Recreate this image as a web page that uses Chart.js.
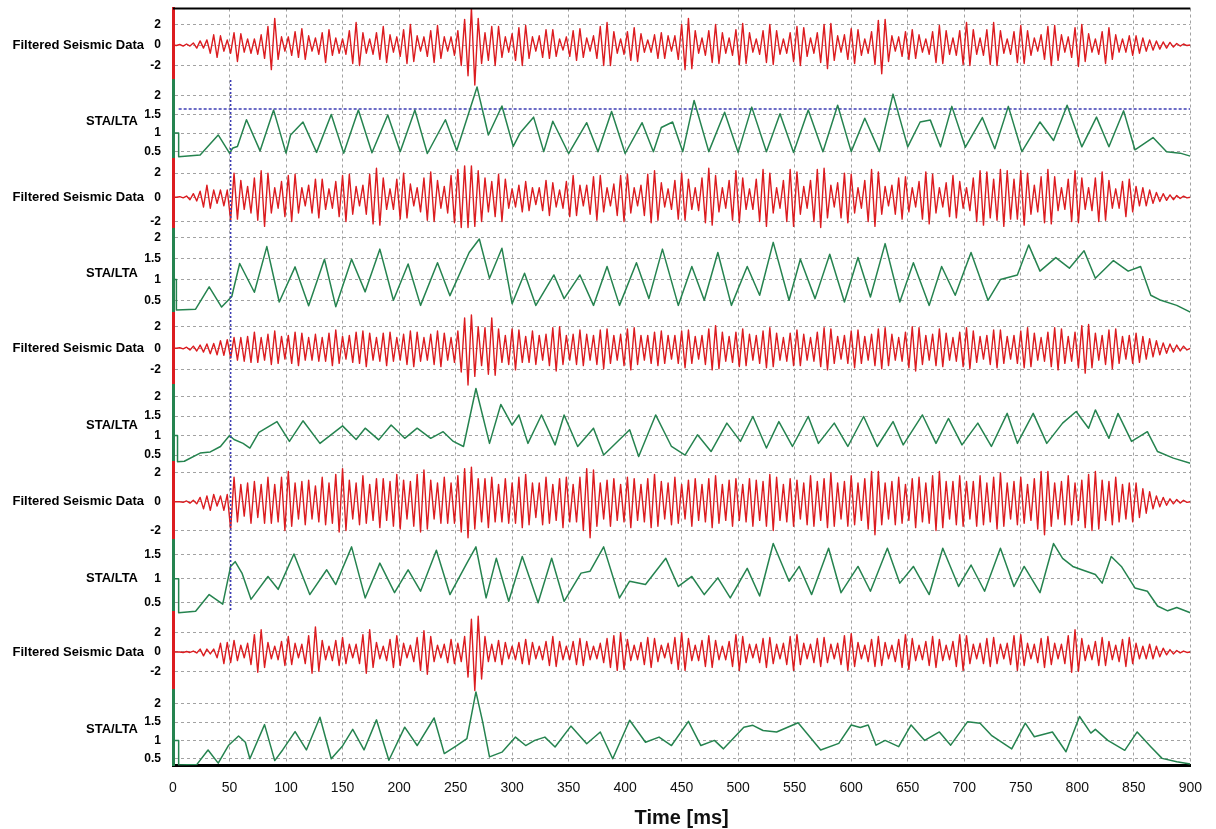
<!DOCTYPE html>
<html>
<head>
<meta charset="utf-8">
<title>STA/LTA</title>
<script src="https://cdn.jsdelivr.net/npm/chart.js@4.4.1/dist/chart.umd.min.js"></script>
<style>
  html, body { margin: 0; padding: 0; background: #fff; }
  canvas { display: block; }
</style>
</head>
<body>
<canvas id="traces" width="1216" height="829"></canvas>
<script>
// seismic traces are sampled every 3 ms, 0..900 ms
var sampleStep = 3;

var seisA = [
  0,-0.05,0.05,-0.1,0.1,-0.1,0.2,-0.3,0.4,-0.3,
  0.5,-0.8,1,-1.2,0.9,-0.6,0.5,-0.8,1.2,-1.6,
  1.1,-0.7,0.6,-0.8,0.6,-0.9,1,-1.3,1.8,-2.4,
  2.6,-1.4,0.8,-0.6,0.8,-1,1.3,-1.2,1.6,-1.4,
  0.9,-0.6,0.7,-0.9,1.2,-1.7,1.5,-1,0.7,-0.8,
  0.6,-0.9,1.4,-1.8,2.2,-2,1.2,-0.8,0.6,-0.9,
  1.2,-1.4,1.8,-1.7,1,-0.7,0.8,-1.1,1.5,-1.8,
  2,-1.6,0.9,-0.6,0.8,-1.1,1.4,-1.7,1.9,-1.3,
  0.8,-0.6,0.8,-1,1.4,-2,2.5,-3,3.6,-3.9,
  2.6,-1.8,1.2,-1.5,1.8,-2,1.8,-1.2,0.8,-0.7,
  1.1,-1.5,1.7,-2,1.9,-1.3,0.8,-0.6,0.9,-1.2,
  1.5,-1.3,1.5,-1.1,0.6,-0.5,0.8,-1.1,1.4,-1.5,
  1.6,-1.2,0.7,-0.6,0.9,-1.3,1.8,-2,2.2,-2,
  1.3,-0.8,0.6,-0.9,1.3,-1.5,1.7,-1.6,1.1,-0.7,
  0.5,-0.7,1,-1.3,1.2,-1.3,0.9,-0.6,0.9,-1.4,
  2,-2.4,2.6,-2.3,1.4,-0.8,0.7,-1,1.4,-1.7,
  2,-1.8,1.2,-0.8,0.7,-1,1.5,-1.9,2.1,-1.8,
  1.2,-0.7,0.6,-0.9,1.4,-1.7,2,-1.9,1.4,-0.9,
  0.6,-0.8,1.2,-1.6,1.8,-2,1.7,-1.1,0.7,-0.8,
  1.2,-1.7,2,-2.3,2.1,-1.5,0.9,-0.7,1,-1.4,
  1.6,-1.8,1.5,-1,0.6,-0.8,1.3,-1.9,2.4,-2.8,
  2.5,-1.6,0.9,-0.6,0.8,-1.1,1.3,-1.4,1.5,-1.3,
  1,-0.7,0.6,-0.9,1.3,-1.7,1.9,-1.8,1.4,-0.9,
  0.7,-1,1.4,-1.9,2.2,-2,1.5,-0.9,0.7,-1,
  1.5,-1.9,2.2,-2,1.4,-0.8,0.6,-0.9,1.3,-1.7,
  1.9,-1.8,1.4,-1,0.7,-0.6,1,-1.4,1.8,-2,
  1.9,-1.5,1,-0.7,0.8,-1.2,1.7,-2.1,2,-1.6,
  1.1,-0.7,0.6,-0.9,1.3,-1.8,1.7,-1.4,1,-0.7,
  0.6,-0.7,0.9,-1,0.9,-0.8,0.7,-0.6,0.5,-0.5,
  0.4,-0.4,0.3,-0.3,0.25,-0.2,0.15,-0.1,0.1,-0.05,
  0
];

var seisB = [
  0,0,0.05,-0.05,0.1,-0.2,0.3,-0.3,0.5,-0.8,
  1,-0.9,0.6,-0.5,0.6,-0.7,0.6,-1.9,2,-1.8,
  1.4,-1,0.9,-1.3,1.6,-1.9,2.2,-2.4,2,-1.3,
  0.8,-0.9,1.3,-1.6,1.8,-2,1.9,-1.3,0.8,-0.7,
  1,-1.3,1.5,-1.7,1.5,-1,0.7,-0.9,1.3,-1.6,
  1.8,-2,1.9,-1.4,0.9,-0.7,1,-1.4,1.9,-2.2,
  2.4,-2.3,1.6,-1,0.7,-1,1.5,-1.8,2,-1.7,
  1.1,-0.7,0.8,-1.2,1.6,-1.9,2.1,-2,1.4,-0.9,
  0.9,-1.3,1.8,-2.1,2.3,-2.5,2.6,-2.5,2.6,-2.4,
  2.2,-2,1.6,-1.2,1.3,-1.6,1.9,-2,1.5,-0.9,
  0.7,-0.8,1,-1.2,1.3,-1.1,0.8,-0.6,0.8,-1.1,
  1.4,-1.5,1.2,-0.8,0.6,-0.9,1.3,-1.6,1.8,-1.5,
  1,-0.7,1,-1.4,1.7,-1.9,1.8,-1.2,0.8,-0.7,
  1.1,-1.5,1.8,-2,1.9,-1.3,0.8,-0.7,1,-1.5,
  1.9,-2.1,2.2,-1.9,1.2,-0.8,0.7,-1,1.4,-1.8,
  2,-1.9,1.5,-1,0.8,-1.1,1.6,-2.1,2.4,-2.3,
  1.8,-1.2,0.8,-0.9,1.4,-1.9,2.2,-2.1,1.6,-1,
  0.7,-1,1.5,-2,2.3,-2.4,2,-1.3,0.8,-0.9,
  1.4,-2,2.3,-2.4,2.1,-1.4,0.9,-0.9,1.4,-2,
  2.3,-2.5,2.4,-1.7,1,-0.8,1.2,-1.7,2,-2.1,
  1.9,-1.3,0.8,-0.9,1.4,-2,2.3,-2.4,2.1,-1.4,
  0.9,-0.7,1,-1.4,1.6,-1.8,1.7,-1.2,0.8,-0.8,
  1.3,-1.8,2.1,-2.2,1.9,-1.3,0.8,-0.8,1.2,-1.6,
  1.8,-1.7,1.3,-0.9,0.8,-1.1,1.6,-2,2.2,-2.3,
  2.1,-1.7,1.5,-1.9,2.3,-2.4,2.2,-1.8,1.5,-1.8,
  2.2,-2.3,2,-1.4,1,-1.2,1.7,-2.1,2.3,-2.2,
  1.7,-1.1,0.8,-1,1.5,-2,2.2,-2.1,1.6,-1,
  0.8,-1.1,1.6,-2,2.1,-1.9,1.4,-0.9,0.7,-0.9,
  1.3,-1.6,1.5,-1.2,0.9,-0.7,0.8,-0.7,0.6,-0.5,
  0.4,-0.35,0.3,-0.25,0.2,-0.2,0.15,-0.1,0.1,-0.05,
  0
];

var seisC = [
  0,0,0.05,-0.05,0.1,-0.15,0.2,-0.25,0.3,-0.35,
  0.4,-0.5,0.45,-0.6,0.7,-0.65,0.8,-0.9,1,-1.1,
  1,-1.2,1.1,-1.3,1.5,-1.3,1,-1.1,1.3,-1.5,
  1.6,-1.4,1.1,-1,1.2,-1.4,1.5,-1.6,1.4,-1.1,
  1,-1.1,1.3,-1.2,1,-1.2,1.4,-1.6,1.7,-1.4,
  1.1,-1,1.2,-1.3,1.5,-1.4,1.6,-1.7,1.4,-1.1,
  1,-1.2,1.4,-1.6,1.5,-1.2,1,-1.1,1.3,-1.5,
  1.6,-1.7,1.5,-1.2,1,-1.1,1.3,-1.5,1.6,-1.7,
  1.4,-1.1,1,-1.3,1.6,-2.2,2.8,-3.4,3.1,-2.6,
  2,-1.6,1.9,-2.4,2.8,-2.5,1.8,-1.3,1.2,-1.5,
  1.8,-2,1.7,-1.3,1.1,-1.3,1.6,-1.5,1.2,-1.1,
  1.3,-1.6,1.9,-2.1,2,-1.5,1.2,-1.1,1.3,-1.5,
  1.7,-1.6,1.3,-1.1,1.2,-1.5,1.7,-1.9,1.8,-1.4,
  1.2,-1.1,1.3,-1.6,1.8,-2,1.9,-1.5,1.2,-1.1,
  1.2,-1.4,1.5,-1.6,1.6,-1.4,1.2,-1,1.2,-1.4,
  1.6,-1.8,1.7,-1.4,1.1,-1,1.2,-1.5,1.8,-2,
  2.1,-1.9,1.5,-1.2,1.1,-1.3,1.5,-1.7,1.8,-1.6,
  1.3,-1.1,1.2,-1.4,1.6,-1.8,1.9,-1.7,1.4,-1.1,
  1,-1.2,1.4,-1.6,1.7,-1.6,1.3,-1.1,1,-1.2,
  1.5,-1.7,1.9,-2,1.8,-1.4,1.1,-1,1.2,-1.4,
  1.6,-1.8,1.7,-1.4,1.1,-1.1,1.3,-1.6,1.8,-1.9,
  1.9,-1.6,1.3,-1.1,1,-1.2,1.5,-1.8,2,-2.1,
  1.9,-1.5,1.2,-1.1,1.3,-1.6,1.8,-1.7,1.4,-1.1,
  1,-1.2,1.5,-1.7,1.9,-1.9,1.6,-1.3,1.1,-1,
  1.2,-1.5,1.7,-1.8,1.7,-1.4,1.1,-1,1.2,-1.4,
  1.6,-1.8,1.9,-1.7,1.4,-1.1,1,-1.2,1.5,-1.7,
  1.9,-2,1.8,-1.4,1.1,-1.2,1.5,-1.8,2.1,-2.3,
  2.2,-1.8,1.4,-1.1,1.2,-1.5,1.7,-1.9,1.8,-1.4,
  1.1,-1,1.2,-1.4,1.4,-1.3,1.1,-1,0.9,-0.8,
  0.7,-0.6,0.5,-0.45,0.4,-0.35,0.3,-0.25,0.2,-0.15,
  0
];

var seisD = [
  0,0,0,-0.05,0.05,-0.1,0.1,-0.15,0.3,-0.5,
  0.4,-0.6,0.5,-0.3,0.4,-0.6,0.5,-1.9,1.7,-1.4,
  1.2,-1,1.3,-1.5,1.4,-1.1,1.2,-1.5,1.7,-1.5,
  1.2,-1.4,1.7,-2,2.1,-1.7,1.3,-1.2,1.4,-1.6,
  1.5,-1.2,1.1,-1.4,1.7,-1.6,1.3,-1.5,1.9,-2.1,
  2.3,-2,1.5,-1.2,1.3,-1.6,1.8,-1.5,1.2,-1.3,
  1.6,-1.8,1.6,-1.3,1.4,-1.7,1.9,-1.9,1.5,-1.2,
  1.4,-1.7,1.9,-2.1,2.2,-1.9,1.5,-1.2,1.3,-1.5,
  1.7,-1.5,1.3,-1.5,1.8,-2.1,2.3,-2.5,2.4,-1.9,
  1.6,-1.4,1.6,-1.8,1.7,-1.4,1.2,-1.4,1.6,-1.5,
  1.3,-1.5,1.7,-1.8,1.9,-1.6,1.3,-1.1,1.3,-1.6,
  1.7,-1.5,1.2,-1.3,1.6,-1.8,1.7,-1.4,1.2,-1.4,
  1.7,-2,2.3,-2.5,2.2,-1.7,1.3,-1.2,1.5,-1.7,
  1.6,-1.3,1.2,-1.4,1.7,-1.8,1.6,-1.3,1.2,-1.4,
  1.6,-1.8,1.9,-1.7,1.4,-1.2,1.3,-1.6,1.7,-1.5,
  1.2,-1.2,1.5,-1.7,1.6,-1.3,1.2,-1.4,1.6,-1.8,
  1.8,-1.5,1.2,-1.3,1.5,-1.7,1.6,-1.3,1.2,-1.4,
  1.6,-1.7,1.5,-1.3,1.4,-1.7,1.9,-2,1.7,-1.3,
  1.2,-1.4,1.6,-1.7,1.5,-1.2,1.3,-1.6,1.8,-1.7,
  1.4,-1.3,1.6,-1.8,2,-1.7,1.3,-1.2,1.4,-1.7,
  1.8,-1.6,1.3,-1.3,1.6,-1.9,2.1,-2.3,2.1,-1.6,
  1.3,-1.2,1.4,-1.6,1.7,-1.5,1.2,-1.3,1.6,-1.8,
  1.7,-1.4,1.3,-1.5,1.8,-2,2.1,-1.8,1.4,-1.2,
  1.4,-1.6,1.8,-1.7,1.4,-1.2,1.4,-1.7,1.8,-1.6,
  1.3,-1.4,1.7,-1.9,2,-1.7,1.3,-1.2,1.4,-1.6,
  1.7,-1.5,1.2,-1.3,1.6,-1.9,2.1,-2.3,2.1,-1.7,
  1.3,-1.2,1.4,-1.6,1.8,-1.6,1.3,-1.3,1.5,-1.8,
  1.9,-2,2.1,-1.9,1.5,-1.3,1.4,-1.6,1.7,-1.4,
  1.2,-1.2,1.3,-1.4,1.3,-1.1,0.9,-0.8,0.7,-0.5,
  0.4,-0.35,0.3,-0.25,0.2,-0.15,0.15,-0.1,0.1,-0.05,
  0
];

var seisE = [
  0,0,0,-0.05,0.05,-0.05,0.1,-0.1,0.3,-0.4,
  0.3,-0.2,0.3,-0.6,0.9,-1.2,1,-1.1,1.2,-0.9,
  0.7,-0.6,0.9,-1.3,1.8,-2.1,2.3,-1.6,1,-0.7,
  0.6,-0.8,1.1,-1.4,1.6,-1.3,0.9,-0.6,0.8,-1.2,
  1.7,-2.2,2.6,-2,1.2,-0.8,0.6,-0.9,1.2,-1.4,
  1.5,-1.2,0.8,-0.6,0.8,-1.2,1.8,-2.2,2.3,-1.6,
  1,-0.7,0.6,-0.9,1.3,-1.6,1.7,-1.4,0.9,-0.6,
  0.7,-1,1.5,-1.9,2.2,-2.3,1.6,-1,0.7,-0.6,
  0.8,-1.1,1.3,-1.2,0.9,-1,1.6,-2.6,3.4,-4,
  3.7,-2.8,1.6,-1,0.8,-1,1.2,-1.3,1,-0.7,
  0.6,-0.8,1,-1.2,1.3,-1.3,1,-0.7,0.6,-0.8,
  1.1,-1.4,1.6,-1.5,1.1,-0.8,0.6,-0.8,1.1,-1.3,
  1.4,-1.4,1.1,-0.8,0.6,-0.7,0.9,-1.1,1.4,-1.6,
  1.7,-1.9,2,-1.8,1.3,-0.9,0.7,-0.8,1,-1.3,
  1.5,-1.6,1.4,-1,0.7,-0.6,0.9,-1.2,1.5,-1.8,
  2,-1.9,1.4,-0.9,0.7,-0.9,1.2,-1.5,1.7,-1.6,
  1.2,-0.8,0.6,-0.8,1.1,-1.5,1.8,-1.9,1.6,-1.1,
  0.8,-0.6,0.8,-1.1,1.4,-1.6,1.5,-1.2,0.8,-0.7,
  0.9,-1.3,1.6,-1.9,1.8,-1.3,0.9,-0.7,0.8,-1.1,
  1.4,-1.5,1.5,-1.1,0.8,-0.7,0.9,-1.3,1.7,-1.9,
  1.9,-1.5,1,-0.7,0.7,-1,1.3,-1.5,1.6,-1.4,
  1,-0.7,0.7,-1,1.3,-1.6,1.8,-1.8,1.4,-0.9,
  0.7,-0.8,1.1,-1.4,1.6,-1.6,1.3,-0.9,0.7,-0.8,
  1.1,-1.5,1.8,-1.9,1.7,-1.2,0.8,-0.7,0.9,-1.2,
  1.4,-1.5,1.5,-1.2,0.8,-0.7,0.9,-1.3,1.7,-1.9,
  1.8,-1.4,0.9,-0.7,0.8,-1.1,1.4,-1.6,1.6,-1.3,
  0.9,-0.7,0.8,-1.2,1.7,-2.1,2.3,-2,1.4,-0.9,
  0.7,-0.8,1.1,-1.4,1.5,-1.4,1.1,-0.8,0.7,-1,
  1.3,-1.5,1.5,-1.2,0.9,-0.7,0.6,-0.7,0.8,-0.7,
  0.6,-0.5,0.4,-0.3,0.25,-0.2,0.15,-0.1,0.1,-0.05,
  0
];

// STA/LTA ratio, [time ms, ratio]
var staA = [[0,1],[5,1],[5,0.36],[24,0.41],[40,0.95],[50,0.46],[53,0.6],[57,0.64],[65,1.36],[77,0.52],[89,1.62],[100,0.46],[104,0.95],[115,1.3],[127,0.48],[140,1.5],[151,0.46],[164,1.62],[176,0.47],[190,1.49],[201,0.5],[214,1.62],[225,0.45],[241,1.36],[251,0.53],[269,2.24],[279,0.95],[291,1.73],[301,0.64],[307,1],[319,1.43],[328,0.5],[336,1.32],[350,0.45],[366,1.28],[376,0.5],[388,1.58],[400,0.45],[415,1.28],[425,0.5],[432,1.15],[442,1.3],[451,0.5],[461,1.88],[474,0.5],[488,1.56],[500,0.48],[512,1.7],[525,0.5],[537,1.52],[549,0.48],[562,1.62],[575,0.5],[588,1.75],[600,0.5],[612,1.4],[625,0.5],[637,2.05],[650,0.63],[661,1.3],[670,1.35],[679,0.63],[689,1.72],[701,0.62],[716,1.42],[727,0.58],[739,1.72],[751,0.5],[767,1.3],[779,0.8],[791,1.75],[804,0.63],[817,1.43],[828,0.63],[841,1.6],[851,0.55],[867,0.88],[879,0.5],[891,0.46],[900,0.38]];

var staB = [[0,1],[3,1],[3,0.28],[20,0.3],[32,0.83],[43,0.35],[52,0.6],[59,1.38],[72,0.7],[83,1.78],[94,0.47],[108,1.3],[120,0.38],[134,1.48],[144,0.36],[158,1.48],[170,0.71],[183,1.72],[195,0.51],[208,1.37],[219,0.39],[234,1.4],[245,0.62],[262,1.64],[271,1.96],[280,1.03],[291,1.74],[300,0.43],[311,1.15],[321,0.39],[337,1.11],[346,0.55],[360,1.11],[372,0.39],[384,1.31],[395,0.39],[410,1.4],[421,0.55],[433,1.72],[447,0.39],[459,1.31],[470,0.51],[482,1.64],[494,0.39],[508,1.31],[519,0.63],[531,1.88],[545,0.51],[555,1.48],[568,0.55],[581,1.6],[594,0.47],[606,1.52],[617,0.59],[630,1.85],[643,0.47],[655,1.4],[669,0.39],[680,1.31],[692,0.63],[706,1.64],[721,0.51],[732,1],[747,1.11],[757,1.82],[767,1.2],[781,1.52],[793,1.27],[806,1.68],[816,1.03],[832,1.45],[845,1.2],[856,1.31],[865,0.63],[874,0.51],[888,0.39],[900,0.23]];

var staC = [[0,1],[4,1],[4,0.33],[10,0.34],[24,0.55],[33,0.58],[42,0.72],[50,1],[54,0.9],[62,0.8],[68,0.68],[76,1.08],[92,1.36],[103,0.85],[115,1.38],[130,0.8],[150,1.25],[162,0.9],[170,1.19],[182,0.89],[193,1.27],[205,0.93],[216,1.19],[228,0.93],[239,1.1],[248,0.85],[257,0.72],[268,2.21],[280,0.8],[290,1.8],[300,1.27],[306,1.53],[314,0.8],[326,1.53],[338,0.76],[346,1.53],[358,0.72],[372,1.19],[381,0.5],[404,1.15],[412,0.46],[427,1.53],[441,0.72],[453,0.5],[464,1.02],[476,0.59],[490,1.32],[502,0.85],[513,1.49],[525,0.68],[536,1.36],[548,0.72],[562,1.49],[571,0.8],[585,1.32],[597,0.72],[611,1.49],[623,0.72],[637,1.36],[646,0.76],[663,1.53],[675,0.8],[686,1.44],[698,0.76],[712,1.32],[724,0.72],[738,1.57],[747,0.8],[761,1.57],[773,0.8],[787,1.32],[799,1.62],[810,1.19],[816,1.66],[828,0.93],[836,1.57],[848,0.85],[862,1.1],[871,0.59],[885,0.42],[900,0.29]];

var staD = [[0,1],[5,1],[5,0.29],[20,0.32],[32,0.67],[44,0.47],[51,1.26],[55,1.36],[61,1.12],[69,0.57],[84,1.05],[93,0.78],[107,1.52],[121,0.67],[136,1.19],[144,0.88],[158,1.67],[170,0.6],[183,1.33],[196,0.71],[208,1.19],[219,0.74],[233,1.6],[245,0.67],[260,1.33],[268,1.67],[277,0.6],[286,1.43],[297,0.53],[309,1.47],[323,0.5],[335,1.43],[346,0.53],[361,1.12],[369,1.16],[381,1.67],[395,0.6],[404,0.95],[418,0.88],[436,1.43],[447,0.84],[459,1.05],[470,0.67],[482,1.02],[493,0.6],[508,1.22],[519,0.64],[531,1.74],[545,0.95],[554,1.26],[565,0.67],[580,1.64],[591,0.71],[606,1.26],[617,0.74],[632,1.64],[643,0.91],[655,1.26],[669,0.67],[681,1.64],[695,0.84],[706,1.29],[718,0.74],[732,1.64],[744,0.84],[753,1.26],[767,0.71],[779,1.74],[787,1.43],[796,1.26],[804,1.19],[816,1.09],[822,0.91],[830,1.47],[839,1.26],[851,0.81],[862,0.74],[871,0.43],[880,0.33],[888,0.4],[900,0.29]];

var staE = [[0,1],[5,1],[5,0.33],[21,0.34],[31,0.74],[40,0.38],[49,0.86],[58,1.12],[64,0.95],[68,0.5],[81,1.43],[90,0.45],[97,0.74],[108,1.24],[118,0.74],[130,1.63],[140,0.5],[150,0.85],[159,1.3],[169,0.74],[180,1.56],[191,0.46],[205,1.36],[216,0.86],[231,1.61],[240,0.64],[251,0.86],[260,1.05],[268,2.32],[274,1.5],[280,0.55],[291,0.68],[303,1.09],[312,0.86],[320,1],[329,1.09],[338,0.82],[352,1.39],[366,0.91],[378,1.23],[389,0.5],[404,1.55],[418,0.95],[430,1.09],[441,0.86],[456,1.52],[467,0.86],[479,1],[487,0.77],[505,1.36],[513,1.41],[522,1.27],[534,1.23],[553,1.48],[573,0.74],[589,0.92],[600,1.42],[608,1.35],[615,1.42],[622,0.87],[630,1],[642,0.83],[653,1.42],[665,1],[678,1.23],[688,0.87],[703,1.51],[714,1.47],[724,1.14],[742,0.77],[754,1.47],[762,1.1],[778,1.23],[790,0.69],[802,1.65],[812,1.2],[816,1.3],[827,1],[842,0.73],[853,1.23],[865,0.83],[875,0.51],[888,0.42],[900,0.36]];

var threshold = 1.65;   // trigger level on the first STA/LTA
var pickTime = 51;      // picked onset, ms
var seisTicks = [-2, 0, 2];
var staTicks = [0.5, 1, 1.5, 2];
var staTicksShort = [0.5, 1, 1.5];

var RED = '#dc1c20', GREEN = '#25834f', GRID = '#a2a2a2';
var FONT = '"Liberation Sans", Arial, sans-serif';

// panel layout: value range and share of the plot height
var panels = [
  { id: 'p1',  kind: 'seis', data: seisA, ticks: seisTicks,     min: -3.41, max: 3.56,  h: 71.5 },
  { id: 'p2',  kind: 'sta',  data: staA,  ticks: staTicks,      min: 0.302, max: 2.431, h: 79 },
  { id: 'p3',  kind: 'seis', data: seisB, ticks: seisTicks,     min: -2.62, max: 3.165, h: 70 },
  { id: 'p4',  kind: 'sta',  data: staB,  ticks: staTicks,      min: 0.21,  max: 2.196, h: 84 },
  { id: 'p5',  kind: 'seis', data: seisC, ticks: seisTicks,     min: -3.4,  max: 3.27,  h: 72 },
  { id: 'p6',  kind: 'sta',  data: staC,  ticks: staTicks,      min: 0.321, max: 2.3,   h: 77 },
  { id: 'p7',  kind: 'seis', data: seisD, ticks: seisTicks,     min: -2.66, max: 2.757, h: 78 },
  { id: 'p8',  kind: 'sta',  data: staD,  ticks: staTicksShort, min: 0.305, max: 1.814, h: 72 },
  { id: 'p9',  kind: 'seis', data: seisE, ticks: seisTicks,     min: -3.94, max: 4.145, h: 78 },
  { id: 'p10', kind: 'sta',  data: staE,  ticks: staTicks,      min: 0.316, max: 2.373, h: 75.5 }
];

var scales = {
  x: {
    type: 'linear', position: 'bottom', min: 0, max: 900,
    ticks: { stepSize: 50, autoSkip: false, maxRotation: 0, padding: 14, color: '#111', font: { family: FONT, size: 14 } },
    grid: { color: GRID, lineWidth: 1, drawTicks: false },
    border: { color: '#000', width: 3, dash: [3, 3] },
    title: { display: true, text: 'Time [ms]', color: '#111', font: { family: FONT, size: 20, weight: 'bold', lineHeight: 1 }, padding: { top: 0, bottom: 1 } },
    afterFit: function (s) { s.height = 63.5; }
  }
};

var datasets = [];

panels.forEach(function (p, i) {
  scales[p.id] = {
    type: 'linear', position: 'left', stack: 'traces', stackWeight: p.h, weight: panels.length - i,
    min: p.min, max: p.max, clip: false,
    afterBuildTicks: function (s) { s.ticks = p.ticks.map(function (v) { return { value: v }; }); },
    afterFit: function (s) {
      s.width = 173;
      // labels sit well inside each band, no extra room needed above/below
      s.paddingTop = 0;
      s.paddingBottom = 0;
    },
    ticks: {
      autoSkip: false, padding: 12, color: '#000', font: { family: FONT, size: 12, weight: 'bold' },
      callback: function (v) { return String(v); }
    },
    grid: { color: GRID, lineWidth: 1, drawTicks: false },
    border: { color: p.kind === 'seis' ? RED : GREEN, width: 3, dash: [3, 3] }
  };

  var pts;
  if (p.kind === 'seis') {
    pts = p.data.map(function (v, k) { return { x: k * sampleStep, y: v }; });
  } else {
    pts = p.data.map(function (d) { return { x: d[0], y: d[1] }; });
  }
  datasets.push({
    data: pts, yAxisID: p.id,
    borderColor: p.kind === 'seis' ? RED : GREEN,
    borderWidth: p.kind === 'seis' ? 1.4 : 1.5,
    borderJoinStyle: 'round',
    pointRadius: 0, tension: 0, fill: false
  });
});

// trigger level on the first ratio panel
datasets.push({
  data: [{ x: 5, y: threshold }, { x: 900, y: threshold }], yAxisID: 'p2',
  borderColor: '#3c3cb4', borderWidth: 1.5, borderDash: [3, 2], pointRadius: 0
});

var frame = {
  id: 'frame',
  afterDatasetsDraw: function (chart) {
    var ctx = chart.ctx, a = chart.chartArea, sc = chart.scales;
    ctx.save();
    ctx.strokeStyle = '#000';
    ctx.lineWidth = 2;
    ctx.beginPath();
    ctx.moveTo(a.left, a.top);
    ctx.lineTo(a.right, a.top);
    ctx.stroke();

    // onset marker through the ratio/trace panels
    var x = sc.x.getPixelForValue(pickTime);
    ctx.strokeStyle = '#3c3cb4';
    ctx.lineWidth = 1.5;
    ctx.setLineDash([2, 2]);
    ctx.beginPath();
    ctx.moveTo(x, sc.p2.top);
    ctx.lineTo(x, sc.p8.bottom);
    ctx.stroke();
    ctx.setLineDash([]);

    ctx.fillStyle = '#000';
    ctx.font = 'bold 13px ' + FONT;
    ctx.textAlign = 'right';
    ctx.textBaseline = 'middle';
    panels.forEach(function (p) {
      var s = sc[p.id];
      if (p.kind === 'seis') {
        ctx.fillText('Filtered Seismic Data', 144, s.getPixelForValue(0));
      } else {
        ctx.fillText('STA/LTA', 138, (s.top + s.bottom) / 2 + 2);
      }
    });
    ctx.restore();
  }
};

var ctx = document.getElementById('traces').getContext('2d');
var chart = new Chart(ctx, {
  type: 'line',
  data: { datasets: datasets },
  options: {
    responsive: false,
    devicePixelRatio: 1,
    animation: false,
    locale: 'en-US',
    parsing: false,
    events: [],
    layout: { padding: { top: 8.5, right: 23.3, bottom: 0, left: 0 } },
    plugins: { legend: { display: false }, tooltip: { enabled: false } },
    scales: scales
  },
  plugins: [frame]
});
</script>
</body>
</html>
